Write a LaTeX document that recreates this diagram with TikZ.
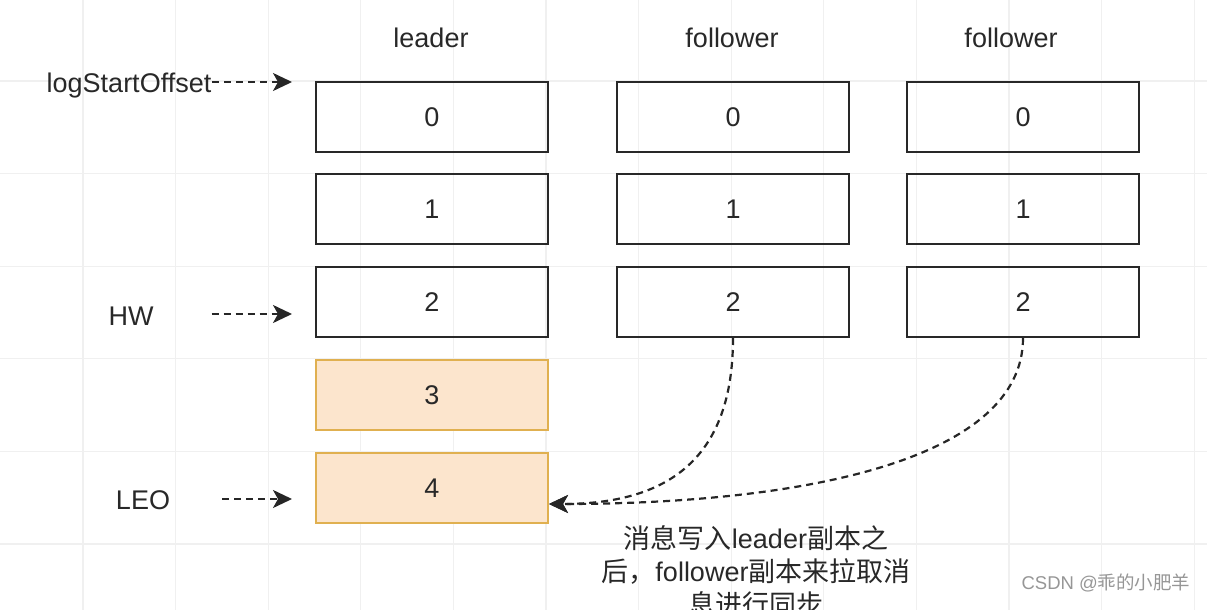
\documentclass[tikz,border=0pt]{standalone}
\usepackage{fontspec}
\setmainfont{Liberation Sans}
\newfontfamily\cjk{Noto Sans CJK SC}
\usetikzlibrary{arrows.meta}
\definecolor{gridgray}{RGB}{240,240,240}
\definecolor{inkgray}{RGB}{40,40,40}
\definecolor{peach}{RGB}{252,229,205}
\definecolor{amber}{RGB}{224,176,80}
\definecolor{markgray}{RGB}{150,150,150}

\tikzset{
  cell/.style={draw=inkgray, line width=2pt, minimum width=232pt, minimum height=70pt, inner sep=0pt},
  newcell/.style={cell, draw=amber, fill=peach},
  ptr/.style={-{Stealth[length=19pt,width=18pt,inset=5pt]}, line width=2.2pt, dash pattern=on 7pt off 5pt, black!85},
}

\begin{document}
\begin{tikzpicture}[x=1pt, y=-1pt, inner sep=1pt, text=inkgray, font=\fontsize{27}{33}\selectfont]
  \useasboundingbox (0,0) rectangle (1207,610);
  % Background grid
  \foreach \k in {-1,...,12}
    \draw[gridgray, line width=1.3pt] (83+92.6*\k,0) -- (83+92.6*\k,610);
  \foreach \k in {-1,...,6}
    \draw[gridgray, line width=1.3pt] (0,81+92.6*\k) -- (1207,81+92.6*\k);

  % Leader replica
  \node (leader) at (431,38) {leader};
  \foreach \i/\y in {0/117,1/209,2/302}
    \node[cell] (l\i) at (432,\y) {\i};
  \foreach \i/\y in {3/395,4/488}
    \node[newcell] (l\i) at (432,\y) {\i};

  % Follower replicas
  \node (fa) at (732,38) {follower};
  \node (fb) at (1011,38) {follower};
  \foreach \i/\y in {0/117,1/209,2/302}{
    \node[cell] (fa\i) at (733,\y) {\i};
    \node[cell] (fb\i) at (1023,\y) {\i};
  }

  % Offsets
  \node (logstart) at (129,86) {logStartOffset};
  \node (hw) at (131,316) {HW};
  \node (leo) at (143,500) {LEO};
  \coordinate (pstart) at (292,82);
  \coordinate (phw) at (292,314);
  \coordinate (pleo) at (292,499);
  \draw[ptr] (logstart.east |- pstart) -- (pstart);
  \draw[ptr, shorten <=57pt] (hw.east |- phw) -- (phw);
  \draw[ptr, shorten <=51pt] (leo.east |- pleo) -- (pleo);

  % Followers fetch from leader
  \coordinate (l4in) at ([yshift=-16pt]l4.east);
  \draw[ptr] (fa2.south) to[out=-90, in=0, out distance=120pt, in distance=120pt] (l4in);
  \draw[ptr] (fb2.south) to[out=-90, in=0, out distance=120pt, in distance=260pt] (l4in);

  \node[anchor=north, align=center] (note) at (756,524)
    {{\cjk 消息写入}leader{\cjk 副本之}\\{\cjk 后，}follower{\cjk 副本来拉取消}\\{\cjk 息进行同步}};
  \node[text=markgray, font=\fontsize{18.5}{20}\selectfont] (mark) at (1106,583) {CSDN @{\cjk 乖的小肥羊}};
\end{tikzpicture}
\end{document}
